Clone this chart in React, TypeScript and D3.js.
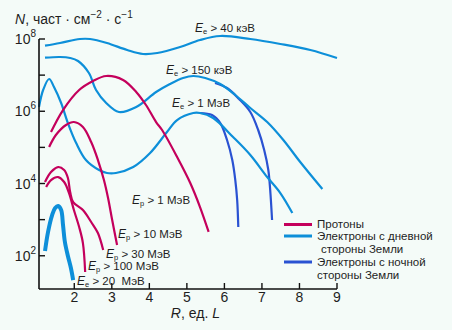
import React from "react";
import * as d3 from "d3";

// Axis ticks
const xTicks = [2, 3, 4, 5, 6, 7, 8, 9];
const yTickExp = [2, 3, 4, 5, 6, 7, 8];
const yLabelExp = [2, 4, 6, 8];

// Electrons, dayside (L, lg N)
const dayE40L = [1.22, 1.62, 2.15, 2.42, 2.87, 3.41, 3.83, 4.21, 4.82, 5.35, 5.89, 6.69, 7.49, 8.29, 9.0];
const dayE40lg = [7.815, 7.889, 8.0, 8.0, 7.889, 7.695, 7.585, 7.612, 7.779, 7.972, 8.083, 8.0, 7.862, 7.695, 7.474];

const dayE150L = [1.22, 1.62, 1.89, 2.1, 2.39, 2.58, 2.85, 3.19, 3.65, 4.18, 4.55, 4.9, 5.17, 5.49, 5.89, 6.29, 6.69, 7.14, 7.57, 8.02, 8.61];
const dayE150lg = [7.482, 7.502, 7.474, 7.391, 7.059, 6.588, 6.228, 5.979, 6.117, 6.533, 6.754, 6.92, 6.976, 6.92, 6.754, 6.45, 6.09, 5.702, 5.204, 4.595, 3.847];

const dayE1L = [1.06, 1.17, 1.33, 1.46, 1.65, 1.83, 2.05, 2.31, 2.66, 2.87, 3.11, 3.57, 4.02, 4.47, 4.74, 5.17, 5.35, 5.7, 6.23, 6.69, 7.14, 7.49, 7.81];
const dayE1lg = [6.117, 6.588, 6.893, 6.671, 6.228, 5.674, 5.121, 4.65, 4.373, 4.29, 4.29, 4.456, 4.844, 5.425, 5.757, 5.951, 5.951, 5.813, 5.287, 4.789, 4.179, 3.736, 3.183];

const dayE20L = [1.22, 1.3, 1.41, 1.49, 1.57, 1.65, 1.7, 1.75, 1.83, 1.91, 1.97];
const dayE20lg = [2.131, 2.657, 3.127, 3.321, 3.377, 3.266, 2.851, 2.38, 1.993, 1.66, 1.328];

// Electrons, nightside
const nightE150L = [5.75, 6.07, 6.39, 6.69, 6.9, 7.06, 7.17, 7.22, 7.27];
const nightE150lg = [6.782, 6.643, 6.339, 5.979, 5.481, 4.927, 4.373, 3.82, 2.989];

const nightE1L = [5.35, 5.67, 5.89, 6.07, 6.21, 6.29, 6.34, 6.37];
const nightE1lg = [5.951, 5.896, 5.674, 5.204, 4.65, 4.096, 3.543, 2.795];

// Protons
const p1L = [1.38, 1.7, 2.13, 2.5, 2.85, 3.3, 3.65, 3.91, 4.18, 4.34, 4.74, 5.09, 5.35, 5.58];
const p1lg = [5.425, 6.034, 6.588, 6.837, 6.976, 6.865, 6.533, 6.173, 5.702, 5.481, 4.733, 4.013, 3.349, 2.66];

const p10L = [1.33, 1.51, 1.78, 1.99, 2.23, 2.45, 2.63, 2.79, 2.9, 3.01, 3.14];
const p10lg = [5.01, 5.342, 5.619, 5.702, 5.564, 5.148, 4.65, 4.096, 3.598, 2.989, 2.297];

const p30L = [1.22, 1.38, 1.57, 1.73, 1.83, 1.89, 1.97, 2.23, 2.45, 2.63, 2.77];
const p30lg = [4.041, 4.318, 4.456, 4.373, 4.152, 3.764, 3.487, 3.266, 2.934, 2.629, 2.158];

const p100L = [1.25, 1.38, 1.57, 1.73, 1.86, 1.99, 2.13, 2.23, 2.29];
const p100lg = [3.903, 4.096, 4.179, 4.041, 3.736, 3.266, 2.795, 2.352, 1.549];

const COL_P = "#c4005c";
const COL_DAY = "#0d8fd9";
const COL_NIGHT = "#2a52d2";
const FONT = "'Liberation Sans', Arial, Helvetica, sans-serif";
const TXT = "#1e1e1e";

const zip = (a: number[], b: number[]) => a.map((v, i) => [v, b[i]] as [number, number]);

export default function App() {
  const x = d3.scaleLinear().domain([1.06, 9]).range([39, 337]);
  const y = d3.scaleLog().domain([Math.pow(10, 1.08), 1e8]).range([289, 39]);
  const line = d3
    .line<[number, number]>()
    .x((d) => x(d[0]))
    .y((d) => y(Math.pow(10, d[1])))
    .curve(d3.curveCatmullRom.alpha(0.5));

  const night = [zip(nightE150L, nightE150lg), zip(nightE1L, nightE1lg)];
  const day = [zip(dayE40L, dayE40lg), zip(dayE150L, dayE150lg), zip(dayE1L, dayE1lg)];
  const protons = [zip(p1L, p1lg), zip(p10L, p10lg), zip(p30L, p30lg), zip(p100L, p100lg)];

  const lbl = (xp: number, yp: number, sub: string, rest: string) => (
    <text x={xp} y={yp} fontSize={11.5} fill={TXT} style={{ whiteSpace: "pre" }}>
      <tspan fontStyle="italic" fontSize={12}>E</tspan>
      <tspan fontSize={7.5} dy={2}>{sub}</tspan>
      <tspan dy={-2}>{rest}</tspan>
    </text>
  );

  return (
    <svg
      width={452}
      height={330}
      style={{ position: "fixed", left: 0, top: 0, background: "#f4fbf8" }}
      fontFamily={FONT}
    >
      <rect x={0} y={0} width={452} height={330} fill="#f4fbf8" />
      {/* curves */}
      {night.map((d, i) => (
        <path key={"n" + i} d={line(d) || ""} fill="none" stroke={COL_NIGHT} strokeWidth={2.2} />
      ))}
      {day.map((d, i) => (
        <path key={"d" + i} d={line(d) || ""} fill="none" stroke={COL_DAY} strokeWidth={2.2} />
      ))}
      <path d={line(zip(dayE20L, dayE20lg)) || ""} fill="none" stroke={COL_DAY} strokeWidth={4} />
      {protons.map((d, i) => (
        <path key={"p" + i} d={line(d) || ""} fill="none" stroke={COL_P} strokeWidth={2.2} />
      ))}

      {/* axes */}
      <line x1={39} x2={39} y1={y(1e8)} y2={289} stroke="#111" strokeWidth={1.6} />
      <line x1={39} x2={x(9)} y1={289} y2={289} stroke="#111" strokeWidth={1.6} />
      {yTickExp.map((e) => (
        <line key={"yt" + e} x1={39} x2={45} y1={y(Math.pow(10, e))} y2={y(Math.pow(10, e))} stroke="#111" strokeWidth={1.4} />
      ))}
      {xTicks.map((t) => (
        <g key={"xt" + t}>
          <line x1={x(t)} x2={x(t)} y1={289} y2={283} stroke="#111" strokeWidth={1.4} />
          <text x={x(t)} y={302} fontSize={14} textAnchor="middle" fill={TXT}>
            {t}
          </text>
        </g>
      ))}
      {yLabelExp.map((e) => (
        <text key={"yl" + e} x={36} y={y(Math.pow(10, e)) + 5} fontSize={14} textAnchor="end" fill={TXT}>
          10
          <tspan fontSize={10} dy={-7}>
            {e}
          </tspan>
        </text>
      ))}

      {/* axis titles */}
      <text x={15} y={24} fontSize={14} fill={TXT} style={{ whiteSpace: "pre" }}>
        <tspan fontStyle="italic">N</tspan>
        <tspan>, част · см</tspan>
        <tspan fontSize={10} dy={-6}>−2</tspan>
        <tspan dy={6}> · с</tspan>
        <tspan fontSize={10} dy={-6}>−1</tspan>
      </text>
      <text x={220} y={318} fontSize={14} textAnchor="end" fill={TXT}>
        <tspan fontStyle="italic">R</tspan>
        <tspan>, ед. </tspan>
        <tspan fontStyle="italic">L</tspan>
      </text>

      {/* curve labels */}
      {lbl(195, 32, "е", " > 40 кэВ")}
      {lbl(166, 74, "е", " > 150 кэВ")}
      {lbl(172, 107, "е", " > 1 МэВ")}
      {lbl(132, 204, "р", " > 1 МэВ")}
      {lbl(118, 238, "р", " > 10 МэВ")}
      {lbl(106, 257.5, "р", " > 30 МэВ")}
      {lbl(88, 270, "р", " > 100 МэВ")}
      {lbl(77, 285, "е", " > 20  МэВ")}

      {/* legend */}
      <line x1={284} x2={312} y1={224.5} y2={224.5} stroke={COL_P} strokeWidth={3} />
      <text x={317} y={228} fontSize={11.5} fill={TXT}>Протоны</text>
      <line x1={284} x2={312} y1={236} y2={236} stroke={COL_DAY} strokeWidth={3} />
      <text x={317} y={240} fontSize={11.5} fill={TXT}>Электроны с дневной</text>
      <text x={321} y={253} fontSize={11.5} fill={TXT}>стороны Земли</text>
      <line x1={284} x2={312} y1={262} y2={262} stroke={COL_NIGHT} strokeWidth={3} />
      <text x={317} y={266} fontSize={11.5} fill={TXT}>Электроны с ночной</text>
      <text x={317} y={279} fontSize={11.5} fill={TXT}>стороны Земли</text>
    </svg>
  );
}
